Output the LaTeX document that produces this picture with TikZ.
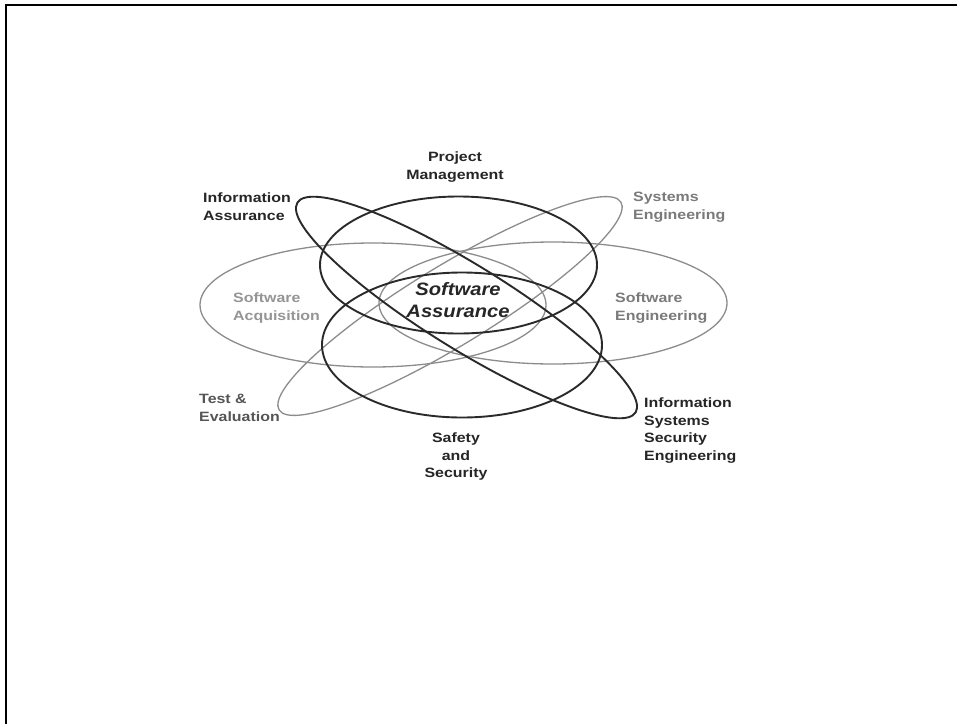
\documentclass[tikz,border=0pt]{standalone}
\usepackage{fontspec}
\usetikzlibrary{shapes.geometric}
\newfontfamily\labfont[FakeStretch=1.18]{Liberation Sans}
\newfontfamily\centerfont[FakeStretch=1.12]{Liberation Sans}
\definecolor{inkdark}{HTML}{262626}
\definecolor{inkmid}{HTML}{555555}
\definecolor{inksoft}{HTML}{7A7A7A}
\definecolor{inklight}{HTML}{959595}
\definecolor{ringdark}{HTML}{2A2A2A}
\definecolor{ringlight}{HTML}{8C8C8C}
\begin{document}
\begin{tikzpicture}[x=1pt,y=-1pt,
  ringbold/.style={ellipse, draw=ringdark, line width=1.9pt, inner sep=0pt, fill=none},
  ringpale/.style={ellipse, draw=ringlight, line width=1.3pt, inner sep=0pt, fill=none},
  lbl/.style={inner sep=0pt, font=\labfont\bfseries\fontsize{13.5}{17.5}\selectfont},
]
\useasboundingbox (0,0) rectangle (957,723);
\fill[white] (0,0) rectangle (957,723);
% frame: top and left edges only
\coordinate (fTL) at (6,5);
\coordinate (fTR) at (957,5);
\coordinate (fBL) at (6,723);
\draw[line width=2.5pt, line cap=rect] (fTR) -- (fTL) -- (fBL);

% pale rings
\node[ringpale, minimum width=346pt, minimum height=124pt] (acq) at (373,305) {};
\node[ringpale, minimum width=348pt, minimum height=122pt] (eng) at (553,303) {};
\node[ringpale, minimum width=400pt, minimum height=80pt, rotate=31.3] (sys) at (450,306) {};

% dark rings
\node[ringbold, minimum width=277pt, minimum height=137pt] (pm) at (458.5,265) {};
\node[ringbold, minimum width=280pt, minimum height=145pt] (saf) at (462,345) {};
\node[ringbold, minimum width=398pt, minimum height=84pt, rotate=-31.8] (ia) at (466.5,307.5) {};

% labels
\node[lbl, anchor=north, align=center, text=inkdark] (tPM) at (455,152) {Project\\Management};
\node[lbl, anchor=north west, align=left, text=inkdark] (tIA) at (203,193) {Information\\Assurance};
\node[lbl, anchor=north west, align=left, text=inksoft] (tSE) at (633,192) {Systems\\Engineering};
\node[lbl, anchor=north west, align=left, text=inklight] (tAcq) at (233,293) {Software\\Acquisition};
\node[lbl, anchor=north west, align=left, text=inksoft] (tEng) at (615,293) {Software\\Engineering};
\node[inner sep=0pt, anchor=north, align=center, text=inkdark,
      font=\centerfont\bfseries\itshape\fontsize{18}{22}\selectfont] (tSA) at (458,282) {Software\\Assurance};
\node[lbl, anchor=north west, align=left, text=inkmid] (tTE) at (199,394) {Test \&\\Evaluation};
\node[lbl, anchor=north, align=center, text=inkdark] (tSS) at (456,433) {Safety\\and\\Security};
\node[lbl, anchor=north west, align=left, text=inkdark] (tISSE) at (644,398) {Information\\Systems\\Security\\Engineering};
\end{tikzpicture}
\end{document}
